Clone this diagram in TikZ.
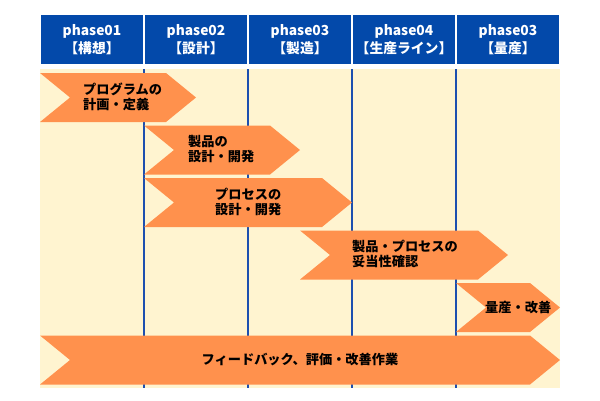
\documentclass[tikz,border=0pt]{standalone}
\usepackage{fontspec}
\setmainfont{Noto Sans CJK JP}
\usepackage{tikz}
\usetikzlibrary{positioning}

\definecolor{headblue}{HTML}{0349AA}
\definecolor{lineblue}{HTML}{1D4FAF}
\definecolor{cream}{HTML}{FFF4D0}
\definecolor{chevorange}{HTML}{FF914D}

\tikzset{
  head/.style={fill=headblue, text=white, font=\fontsize{13.8}{17.5}\selectfont\bfseries,
    align=center, minimum width=102.5pt, minimum height=49pt, inner sep=0pt},
  chev/.style={fill=chevorange},
  label/.style={font=\fontsize{13.2}{15}\selectfont\bfseries, align=left, inner sep=0pt, anchor=west},
  phaseline/.style={draw=lineblue, line width=1.5pt}
}

\begin{document}
\begin{tikzpicture}[x=1pt, y=-1pt]
  \useasboundingbox (0,0) rectangle (600,400);

  % background
  \fill[cream] (40,69) rectangle (560,388);

  % headers
  \node[head] (h1) at (92,39.5) {phase01\\【構想】};
  \node[head] (h2) at (196,39.5) {phase02\\【設計】};
  \node[head] (h3) at (300,39.5) {phase03\\【製造】};
  \node[head] (h4) at (404,39.5) {phase04\\【生産ライン】};
  \node[head] (h5) at (508,39.5) {phase03\\【量産】};

  % column lines
  \foreach \x in {144,248,352,456}
    \draw[phaseline] (\x,69) -- (\x,388);

  % chevrons
  \fill[chev] (40,73) -- (166,73) -- (196,97.5) -- (166,122) -- (40,122) -- (70,97.5) -- cycle;
  \fill[chev] (144,125.5) -- (270,125.5) -- (300,150) -- (270,174.5) -- (144,174.5) -- (174,150) -- cycle;
  \fill[chev] (144,178) -- (322,178) -- (352,202.5) -- (322,227) -- (144,227) -- (174,202.5) -- cycle;
  \fill[chev] (300,230.5) -- (478,230.5) -- (508,255) -- (478,279.5) -- (300,279.5) -- (330,255) -- cycle;
  \fill[chev] (456,283) -- (530,283) -- (560,307.5) -- (530,332) -- (456,332) -- (486,307.5) -- cycle;
  \fill[chev] (40,335.5) -- (530,335.5) -- (560,360) -- (530,384.5) -- (40,384.5) -- (70,360) -- cycle;

  % labels
  \node[label] (plan) at (83,97) {プログラムの\\計画・定義};
  \node[label] (prod) at (188,149.5) {製品の\\設計・開発};
  \node[label] (proc) at (215,201.5) {プロセスの\\設計・開発};
  \node[label] (valid) at (352,254) {製品・プロセスの\\妥当性確認};
  \node[label] (mass) at (485,307.5) {量産・改善};
  \node[label, anchor=center] (feed) at (300,359.5) {フィードバック、評価・改善作業};
\end{tikzpicture}
\end{document}
